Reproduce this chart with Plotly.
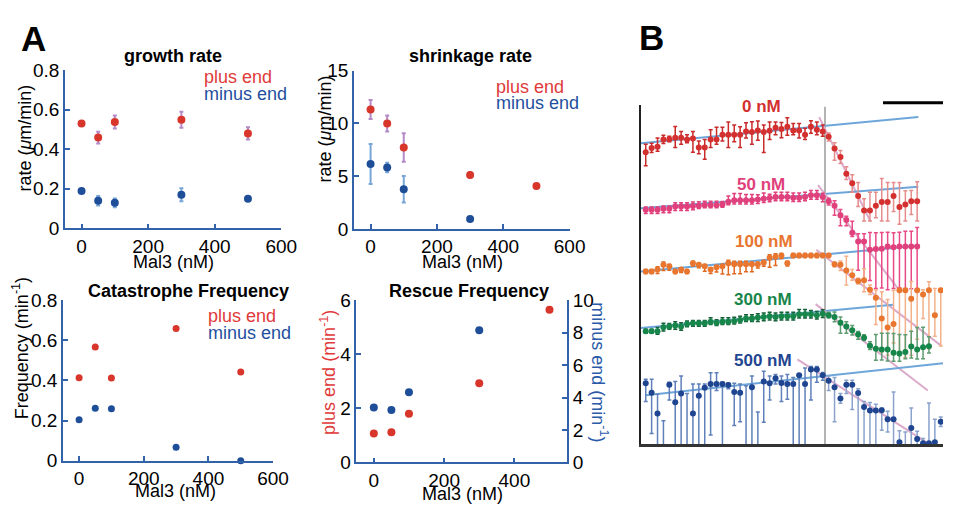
import plotly.graph_objects as go

W, H = 959, 512
FONT = "Liberation Sans, Arial, Helvetica, sans-serif"

# ---------------- Panel A data ----------------
mal3 = [0, 50, 100, 300, 500]
mal3_minus = [0, 50, 100, 300]

growth_plus = [0.530, 0.459, 0.538, 0.549, 0.480]
growth_plus_err = [0.010, 0.030, 0.033, 0.040, 0.031]
growth_minus = [0.189, 0.139, 0.129, 0.170, 0.150]
growth_minus_err = [0.006, 0.024, 0.022, 0.033, 0.006]

shrink_plus = [11.33, 10.0, 7.73, 5.12, 4.06]
shrink_plus_err = [0.9, 0.76, 1.35, 0.25, 0.2]
shrink_minus = [6.15, 5.82, 3.76, 0.94]
shrink_minus_err = [1.9, 0.45, 1.25, 0.1]

cat_plus = [0.413, 0.566, 0.412, 0.658, 0.441]
cat_minus = [0.204, 0.261, 0.259, 0.067, 0.0]

resc_plus = [1.065, 1.11, 1.80, 2.93, 5.645]
resc_minus = [3.39, 3.23, 4.33, 8.15]

xticks_a = [0, 200, 400, 600]
xticks_resc = [0, 200, 400]
yticks_growth = [0, 0.2, 0.4, 0.6, 0.8]
yticks_shrink = [0, 5, 10, 15]
yticks_cat = [0, 0.2, 0.4, 0.6, 0.8]
yticks_resc_plus = [0, 2, 4, 6]
yticks_resc_minus = [0, 2, 4, 6, 8, 10]

# ---------------- Panel B data (length, arbitrary units, vs frame) ----------------
b0_pre = [304.4, 308.7, 310, 317.7, 318, 319.4, 319.4, 317.7, 318.7, 309.4, 309.4, 317.7, 317.7, 322.7, 322.7,
          322.7, 322.7, 326, 325.4, 327, 325.4, 326.7, 330, 328.7, 331, 327, 327, 322.7, 331, 327.7, 326]
b0_pre_up = [8.3, 5, 9.3, 4.3, 3, 11.7, 6.7, 5, 7.3, 6.7, 8.3, 10, 12.7, 7.7, 13.3, 10, 8.3, 9, 10.7, 10, 7.3,
             9.3, 6, 6.7, 9.3, 7.3, 7.3, 6.7, 6.3, 8.3, 6.7]
b0_pre_dn = [14, 4.7, 4.7, 4.3, 2.7, 10, 6.7, 3.3, 14.3, 6.7, 12.3, 8.3, 5, 6.7, 13.3, 7.3, 13.3, 6.7, 12.7, 10,
             21.3, 9, 7.3, 9.3, 9, 4.3, 7.7, 5, 6.7, 5, 5]
b0_post = [320.4, 308.4, 299.4, 282, 272, 258.7, 243.7, 243.7, 248.7, 252.4, 252.4, 258.7, 247.4, 250, 253.4, 253.4]
b0_post_up = [4, 6, 6.7, 7.3, 9, 14, 12.3, 19, 14, 24.7, 20.3, 14, 25.3, 14.3, 11, 20.3]
b0_post_dn = [4.3, 12.3, 6.7, 6, 9.3, 11, 11, 11, 12.7, 19.7, 19.7, 16, 18, 17.3, 14, 20.7]

b50_pre = [244.4, 244.4, 244.4, 245.4, 245.4, 247.7, 247.7, 247.7, 248.4, 248.7, 249.4, 249.4, 249.4, 250, 252.7,
           254.4, 254.4, 254.4, 254.4, 255, 256, 256.7, 257.7, 257.7, 257.7, 257, 257, 257.7, 259.4, 259.4, 257.7]
b50_pre_up = [3, 3, 3, 3, 3, 4, 4, 4, 4, 4, 4, 4, 4, 3, 6, 7, 7, 6, 6, 5, 6, 4, 5, 5, 5, 5, 5, 5, 5, 5, 4]
b50_pre_dn = [4, 4, 4, 4, 4, 4, 4, 4, 4, 3, 3, 3, 3, 3, 3, 4, 4, 4, 4, 4, 4, 4, 4, 4, 4, 4, 4, 4, 4, 4, 5]
b50_post = [253.4, 248.7, 238.7, 233.7, 220.4, 211.4, 211.4, 202.7, 203.4, 203.7, 206, 205.4, 206, 206, 206, 206]
b50_post_up = [3, 5, 6, 4, 12, 8, 8, 18, 17, 17, 15, 15, 15, 16, 16, 20]
b50_post_dn = [4, 10, 11, 6, 4, 30, 40, 32, 41, 41, 45, 43, 43, 44, 44, 44]

b100_pre = [180, 180, 182, 187, 185.4, 180, 182, 180, 188.7, 187, 185.4, 182, 184.4, 185.4, 188.7, 187.7, 187.7,
            187.7, 187.7, 187.7, 189.4, 194.4, 195.4, 196.7, 188.7, 196.7, 196.7, 196.7, 196.7, 196.7, 196.7]
b100_pre_up = [2, 2, 3, 3, 2, 2, 2, 2, 2, 2, 2, 2, 2, 2, 3, 3, 3, 3, 2, 2, 2, 3, 3, 2, 2, 2, 2, 2, 2, 2, 2]
b100_pre_dn = [2, 2, 4, 6, 4, 2, 3, 2, 3, 3, 5, 4, 5, 8, 12, 10, 10, 8, 8, 4, 4, 10, 9, 3, 3, 2, 2, 2, 2, 2, 2]
b100_post = [196.7, 187.7, 187, 181, 176, 170, 171, 161, 152.7, 131, 121.7, 125.4, 160.4, 160.4, 151.7, 160.4,
             156, 160.4, 134.4, 160.4]
b100_post_up = [2, 2, 4, 15, 6, 3, 12, 5, 8, 28, 29, 35, 2, 2, 18, 1, 5, 9, 28, 2]
b100_post_dn = [2, 3, 6, 15, 5, 3, 12, 5, 28, 35, 29, 20, 68, 70, 59, 51, 25, 61, 22, 58]

b300_pre = [117.7, 117.7, 117.7, 122, 122.7, 123.7, 122.7, 125.4, 126, 126, 126, 127.7, 126.7, 127.7, 127.7, 128.4,
            129.4, 131, 131, 132, 132.7, 133.4, 132.7, 133.4, 133.4, 133.4, 135.4, 135.4, 135.4, 134.4, 136]
b300_pre_up = [2, 2, 4, 4, 3, 4, 4, 3, 3, 3, 3, 4, 3, 4, 4, 4, 4, 4, 4, 4, 4, 4, 4, 4, 4, 4, 5, 5, 4, 4, 4]
b300_pre_dn = [2, 2, 3, 4, 3, 4, 4, 3, 3, 3, 3, 3, 3, 3, 3, 3, 3, 3, 3, 4, 4, 4, 4, 4, 4, 4, 4, 4, 4, 4, 4]
b300_post = [134.4, 132.7, 126.7, 122.7, 118.7, 114.4, 111, 102.7, 99.4, 98.7, 98.7, 95.4, 94.4, 96, 101.7, 98.7,
             101, 102]
b300_post_up = [3, 5, 6, 5, 5, 3, 3, 4, 15, 17, 17, 20, 20, 18, 16, 23, 21, 10]
b300_post_dn = [3, 5, 11, 7, 5, 5, 3, 4, 12, 11, 12, 9, 8, 7, 12, 10, 12, 7]

b500_pre = [63.4, 53.7, 32, -6, 62, 43.7, 52.7, -6, 32, 50.4, 58.7, 62.7, 62.7, 62.7, 61.7, 54.4, 53.7, -6, 59.4,
            -6, 65.4, 63.4, 68.7, 63.7, 62.7, 62.7, 71.7, 62.7, 77.7, 77.7, 71.7]
b500_pre_up = [4.3, 14, 20, 30.4, 2.4, 21.7, 18.3, 58.7, 30.7, 12.3, 4, 11.7, 11.7, 1.7, 2, 9, 9, 67, 11.6, 39.4,
               10.6, 7.6, 4, 7.3, 10, 6.7, 1, 16.7, 3.3, 3.3, 3]
b500_pre_dn = [19, 42.7, 40, 0, 16, 70, 60, 0, 40, 55, 65, 53.3, 6.7, 70, 4, 35, 30.3, 0, 65, 0, 42.7, 17.4, 6,
               19.3, 16, 70, 75, 70, 31.7, 13.3, 5]
b500_post = [66, 59.4, 47.7, 62, 62, 53.4, 38.7, 35, 35, 35.4, 26, 26, 2, -6, 16.7, 5.4, 1, 1, 2, 23.4]
b500_post_up = [5, 10, 5, 4.7, 4.7, 4.3, 5.7, 8.4, 6.7, 2.3, 8.4, 28.4, 12, 18.7, 21, 8, 5, 42, 24, 5]
b500_post_dn = [10, 36, 5, 9.3, 26, 60, 45, 45, 45, 21, 13.3, 30, 10, 0, 20, 10, 5, 5, 5, 5]

# fitted growth (blue) and shrinkage (pink) lines: [frame start, frame end], [length start, length end]
fit_grow_t = {"0": [-0.83, 46.2], "50": [-0.83, 46.2], "100": [-0.83, 46.4], "300": [-0.83, 41.9], "500": [0, 50.4]}
fit_grow_h = {"0": [313.7, 341], "50": [246, 268.4], "100": [180, 207], "300": [121, 145.4], "500": [51, 84.4]}
fit_shr_t = {"0": [29.4, 38.05], "50": [29.2, 42.7], "100": [28.9, 50.05], "300": [28.8, 47.8], "500": [25.7, 48.05]}
fit_shr_h = {"0": [341, 232.7], "50": [270, 162.7], "100": [202.7, 102.7], "300": [146, 56], "500": [88.4, 0]}
catastrophe_frame = 30.38
b_frame_range = [-0.83, 50.38]
b_len_range = [0, 353.7]

# ---------------- styling ----------------
RED = "#d8352b"
BLUE = "#1f4e99"
LAV = "#b48ac6"
LBLUE = "#78a6d7"
AX = "#3262aa"
TXT_RED = "#e03a3a"
TXT_BLUE = "#1f4f9e"


def dx(p0, p1):
    return [p0 / W, p1 / W]


def dy(pb, pt):
    return [1 - pb / H, 1 - pt / H]


fig = go.Figure()


def pts(x, y, err, color, ecolor, xa, ya, size=8):
    e = None
    if err is not None:
        e = dict(type="data", array=err, color=ecolor, thickness=2, width=2)
    fig.add_trace(go.Scatter(x=x, y=y, mode="markers", marker=dict(color=color, size=size),
                             error_y=e, xaxis=xa, yaxis=ya, cliponaxis=False, showlegend=False,
                             hoverinfo="skip"))


pts(mal3, growth_plus, growth_plus_err, RED, LAV, "x", "y")
pts(mal3, growth_minus, growth_minus_err, BLUE, LBLUE, "x", "y")
pts(mal3, shrink_plus, shrink_plus_err, RED, LAV, "x2", "y2")
pts(mal3_minus, shrink_minus, shrink_minus_err, BLUE, LBLUE, "x2", "y2")
pts(mal3, cat_plus, None, RED, None, "x3", "y3", size=7)
pts(mal3, cat_minus, None, BLUE, None, "x3", "y3", size=7)
pts(mal3, resc_plus, None, RED, None, "x4", "y4", size=8)
pts(mal3_minus, resc_minus, None, BLUE, None, "x4", "y5", size=8)

# ---------------- panel B ----------------
series_b = [
    ("0", b0_pre, b0_pre_up, b0_pre_dn, b0_post, b0_post_up, b0_post_dn, "#d3302f", "#c92a2a", "#e58c8c"),
    ("50", b50_pre, b50_pre_up, b50_pre_dn, b50_post, b50_post_up, b50_post_dn, "#e0407b", "#e0407b", "#e94a86"),
    ("100", b100_pre, b100_pre_up, b100_pre_dn, b100_post, b100_post_up, b100_post_dn, "#e8762f", "#e0691f", "#f3b089"),
    ("300", b300_pre, b300_pre_up, b300_pre_dn, b300_post, b300_post_up, b300_post_dn, "#17864a", "#17603a", "#5e9c72"),
    ("500", b500_pre, b500_pre_up, b500_pre_dn, b500_post, b500_post_up, b500_post_dn, "#1f4591", "#5f80ba", "#8aa2cc"),
]

for key, *_ in series_b:
    fig.add_trace(go.Scatter(x=fit_grow_t[key], y=fit_grow_h[key], mode="lines",
                             line=dict(color="#6ea6da", width=2), xaxis="x6", yaxis="y6",
                             showlegend=False, hoverinfo="skip"))
    fig.add_trace(go.Scatter(x=fit_shr_t[key], y=fit_shr_h[key], mode="lines",
                             line=dict(color="#dcaacb", width=2), xaxis="x6", yaxis="y6",
                             showlegend=False, hoverinfo="skip"))

for key, pre, pre_up, pre_dn, post, post_up, post_dn, mcol, ecol_pre, ecol_post in series_b:
    t_pre = list(range(len(pre)))
    t_post = list(range(len(pre), len(pre) + len(post)))
    fig.add_trace(go.Scatter(x=t_pre, y=pre, mode="markers", marker=dict(color=mcol, size=6),
                             error_y=dict(type="data", symmetric=False, array=pre_up, arrayminus=pre_dn,
                                          color=ecol_pre, thickness=1.5, width=2),
                             xaxis="x6", yaxis="y6", showlegend=False, hoverinfo="skip"))
    fig.add_trace(go.Scatter(x=t_post, y=post, mode="markers", marker=dict(color=mcol, size=6),
                             error_y=dict(type="data", symmetric=False, array=post_up, arrayminus=post_dn,
                                          color=ecol_post, thickness=1.5, width=2),
                             xaxis="x6", yaxis="y6", showlegend=False, hoverinfo="skip"))

fig.add_shape(type="line", xref="x6", yref="y6", x0=catastrophe_frame, x1=catastrophe_frame,
              y0=0, y1=351.7, line=dict(color="#b3b3b3", width=2), layer="below")
# scale bar
fig.add_shape(type="line", xref="paper", yref="paper", x0=898 / W, x1=1.0, y0=1 - 96.7 / H, y1=1 - 96.7 / H,
              line=dict(color="black", width=3))


def axc(**kw):
    d = dict(showline=True, linecolor=AX, linewidth=1.5, ticks="inside", ticklen=5, tickcolor=AX,
             tickwidth=1.5, showgrid=False, zeroline=False, mirror=False,
             tickfont=dict(family=FONT, size=19, color="black"), fixedrange=True)
    d.update(kw)
    return d


fig.update_layout(
    width=W, height=H, autosize=False, margin=dict(l=0, r=0, t=0, b=0, pad=0),
    paper_bgcolor="white", plot_bgcolor="rgba(0,0,0,0)",
    font=dict(family=FONT, size=18, color="black"),
    showlegend=False,
    xaxis=axc(domain=dx(66, 286), range=[-50, 600], tickvals=xticks_a, anchor="y"),
    yaxis=axc(domain=dy(227.7, 62.7), range=[0, 0.8], tickvals=yticks_growth, anchor="x"),
    xaxis2=axc(domain=dx(360, 579.3), range=[-50, 600], tickvals=xticks_a, anchor="y2"),
    yaxis2=axc(domain=dy(228.3, 63.3), range=[0, 15], tickvals=yticks_shrink, anchor="x2"),
    xaxis3=axc(domain=dx(64, 277.7), range=[-50, 600], tickvals=xticks_a, anchor="y3"),
    yaxis3=axc(domain=dy(470, 302.3), range=[0, 0.8], tickvals=yticks_cat, anchor="x3"),
    xaxis4=axc(domain=dx(362.3, 576.7), range=[-50, 550], tickvals=xticks_resc, anchor="y4"),
    yaxis4=axc(domain=dy(471.7, 302.7), range=[0, 6], tickvals=yticks_resc_plus, anchor="x4"),
    yaxis5=axc(range=[0, 10], tickvals=yticks_resc_minus, anchor="x4", overlaying="y4", side="right"),
    xaxis6=dict(domain=dx(651.7, 959), range=b_frame_range, anchor="y6", showline=True, linecolor="#333333",
                linewidth=2.5, showticklabels=False, ticks="", showgrid=False, zeroline=False, fixedrange=True),
    yaxis6=dict(domain=dy(452.7, 99), range=b_len_range, anchor="x6", showline=True, linecolor="#222222",
                linewidth=2, showticklabels=False, ticks="", showgrid=False, zeroline=False, fixedrange=True),
)


def txt(text, px, py, size=18, color="black", bold=False, angle=0, xanchor="center"):
    fig.add_annotation(text=f"<b>{text}</b>" if bold else text, x=px / W, y=1 - py / H,
                       xref="paper", yref="paper", showarrow=False, textangle=angle,
                       font=dict(family=FONT, size=size, color=color), xanchor=xanchor, yanchor="middle")


# panel letters
txt("A", 34, 29.5, size=35, bold=True)
txt("B", 662.5, 28.5, size=35, bold=True)

# titles
txt("growth rate", 176, 48, bold=True)
txt("shrinkage rate", 478, 48, bold=True)
txt("Catastrophe Frequency", 191.7, 293, bold=True)
txt("Rescue Frequency", 476.7, 293, bold=True)

# legends
txt("plus end", 205, 70, color=TXT_RED, xanchor="left")
txt("minus end", 205, 88, color=TXT_BLUE, xanchor="left")
txt("plus end", 502, 80, color=TXT_RED, xanchor="left")
txt("minus end", 502, 97, color=TXT_BLUE, xanchor="left")
txt("plus end", 209, 319.3, color=TXT_RED, xanchor="left")
txt("minus end", 209, 336.7, color=TXT_BLUE, xanchor="left")

# axis titles
txt("Mal3 (nM)", 176, 263)
txt("Mal3 (nM)", 470, 263)
txt("Mal3 (nM)", 178, 502)
txt("Mal3 (nM)", 470, 505)
txt("rate (<i>μ</i>m/min)", 25, 133.5, angle=-90)
txt("rate (<i>μ</i>m/min)", 330, 124, angle=-90)
txt("Frequency (min<sup>-1</sup>)", 21, 353, angle=-90)
txt("plus end (min<sup>-1</sup>)", 334, 378, angle=-90, color=TXT_RED)
txt("minus end (min<sup>-1</sup>)", 609.5, 378, angle=90, color="#2a5aa8")

# panel B concentration labels (data coordinates)
conc_labels = ["0 nM", "50 nM", "100 nM", "300 nM", "500 nM"]
conc_label_t = [19.7, 19.55, 20.0, 19.8, 19.8]
conc_label_h = [352.0, 271.0, 211.0, 151.0, 87.7]
conc_label_col = ["#d3302f", "#e0407b", "#e8762f", "#17864a", "#1f4591"]
for lab, t, h, c in zip(conc_labels, conc_label_t, conc_label_h, conc_label_col):
    fig.add_annotation(text=f"<b>{lab}</b>", x=t, y=h, xref="x6", yref="y6", showarrow=False,
                       font=dict(family=FONT, size=17, color=c), xanchor="center", yanchor="middle")

fig.write_html("out.html", config={"displayModeBar": False, "responsive": False},
               post_script="document.body.style.margin='0';")
